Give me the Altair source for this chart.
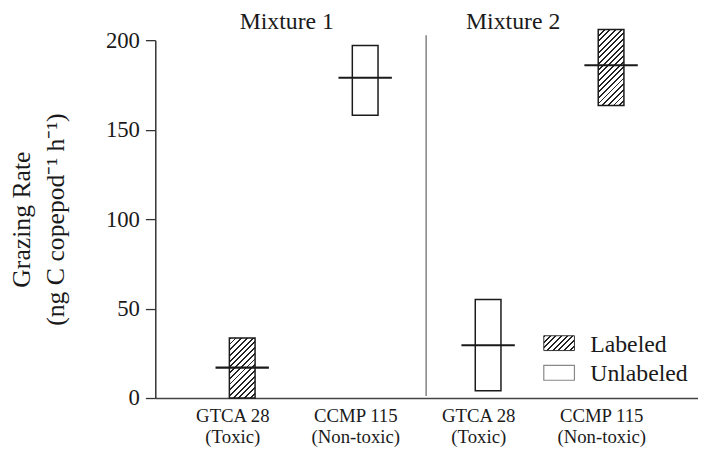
import altair as alt
import pandas as pd

# ---- data ----
mixture = ["Mixture 1", "Mixture 1", "Mixture 2", "Mixture 2"]
strain = ["GTCA 28", "CCMP 115", "GTCA 28", "CCMP 115"]
toxicity = ["(Toxic)", "(Non-toxic)", "(Toxic)", "(Non-toxic)"]
state = ["Labeled", "Unlabeled", "Unlabeled", "Labeled"]
low = [0, 158, 4, 163.5]
high = [33.5, 197, 55, 206]
median = [17, 179, 29.5, 186]
y_ticks = [0, 50, 100, 150, 200]
legend_labels = ["Labeled", "Unlabeled"]

W, H = 549, 362
YMAX = 200
BAR_W = 26
FONT = "Liberation Serif"
INK = "#1a1a1a"

df = pd.DataFrame({
    "key": [f"{s}|{t}|{m}" for s, t, m in zip(strain, toxicity, mixture)],
    "mixture": mixture, "strain": strain, "toxicity": toxicity,
    "state": state, "low": low, "high": high, "median": median,
})
order = list(df["key"])
one = pd.DataFrame({"k": [0]})


def hatch(w, h, period=4.0, thick=1.3):
    """Diagonal '/' hatching as a hard-stop linear gradient."""
    r = h / w
    k = (1 + r) / (1 + r * r)
    L = (w + h) / 2 ** 0.5
    n = max(1, round(L / period))
    d = thick / L
    stops = []
    for i in range(n):
        a = i / n
        b = (i + 1) / n
        stops += [
            {"offset": a, "color": "#222222"},
            {"offset": min(a + d, b), "color": "#222222"},
            {"offset": min(a + d, b), "color": "#ffffff"},
            {"offset": b, "color": "#ffffff"},
        ]
    return {"gradient": "linear", "x1": 0, "y1": 0, "x2": k, "y2": k * r,
            "stops": stops}


x_enc = alt.X(
    "key:N", sort=order,
    scale=alt.Scale(type="point", padding=0.707),
    axis=alt.Axis(
        title=None, ticks=False, domainColor="#444", domainWidth=1.5, grid=False,
        labelExpr="slice(split(datum.label, '|'), 0, 2)",
        labelFont=FONT, labelFontSize=19, labelColor=INK, labelLineHeight=21,
        labelPadding=9, labelOffset=-10, labelBaseline="top", labelAngle=0,
    ),
)
y_scale = alt.Scale(domain=[0, YMAX], nice=False, zero=True)
y_enc = alt.Y(
    "low:Q", scale=y_scale,
    axis=alt.Axis(
        values=y_ticks, tickSize=10, tickColor="#333", tickWidth=1.3,
        domainColor="#333", domainWidth=1.5, grid=False,
        labelFont=FONT, labelFontSize=23, labelColor=INK, labelPadding=6,
        title=["Grazing Rate", "(ng C copepod\u207b\u00b9 h\u207b\u00b9)"],
        titleFont=FONT, titleFontSize=26, titleFontWeight="normal",
        titleColor=INK, titleLineHeight=34, titleAngle=270,
        titleX=-127, titleY=H / 2, titleBaseline="alphabetic", titleAlign="center",
    ),
)

base = alt.Chart(df)
note = alt.Chart(one)

open_boxes = base.transform_filter("datum.state == 'Unlabeled'").mark_bar(
    size=BAR_W, fill="white", stroke=INK, strokeWidth=1.5
).encode(x=x_enc, y=y_enc, y2="high:Q")

hatched_layers = []
for i, row in df.iterrows():
    if row["state"] != "Labeled":
        continue
    h_px = (row["high"] - row["low"]) * H / YMAX
    hatched_layers.append(
        base.transform_filter(f"datum.key == '{row['key']}'").mark_bar(
            size=BAR_W, fill=hatch(BAR_W, h_px), stroke=INK, strokeWidth=1.5
        ).encode(x=x_enc, y=y_enc, y2="high:Q")
    )

medians = base.mark_tick(size=54, thickness=2.2, color=INK, opacity=1,
                         orient="horizontal").encode(
    x=x_enc, y=alt.Y("median:Q", scale=y_scale)
)

divider = note.mark_rule(color="#8a8a8a", strokeWidth=1.6).encode(
    x=alt.value(274), y=alt.value(-5), y2=alt.value(360)
)

txt = dict(font=FONT, fontSize=24, color=INK, baseline="alphabetic",
           fontWeight="normal")
mix1 = note.mark_text(align="center", **txt).encode(
    x=alt.value(133), y=alt.value(-11), text=alt.value(mixture[0]))
mix2 = note.mark_text(align="center", **txt).encode(
    x=alt.value(362), y=alt.value(-11), text=alt.value(mixture[2]))

leg_hatch = note.mark_rect(fill=hatch(31, 15, period=4.0), stroke="#333",
                           strokeWidth=1).encode(
    x=alt.value(393), x2=alt.value(424), y=alt.value(299), y2=alt.value(314))
leg_open = note.mark_rect(fill="white", stroke="#888", strokeWidth=1.2).encode(
    x=alt.value(393), x2=alt.value(424), y=alt.value(329), y2=alt.value(344))
leg_t1 = note.mark_text(align="left", **txt).encode(
    x=alt.value(440), y=alt.value(315), text=alt.value(legend_labels[0]))
leg_t2 = note.mark_text(align="left", **txt).encode(
    x=alt.value(440), y=alt.value(345), text=alt.value(legend_labels[1]))

chart = alt.layer(
    divider, open_boxes, *hatched_layers, medians, mix1, mix2,
    leg_hatch, leg_open, leg_t1, leg_t2,
).properties(
    width=W, height=H,
    autosize=alt.AutoSizeParams(type="none"),
    padding={"left": 149, "top": 30, "right": 0, "bottom": 47},
).configure(background="white").configure_view(stroke="transparent", strokeWidth=0)

chart.save("out.html", embed_options={"renderer": "svg", "actions": False})
